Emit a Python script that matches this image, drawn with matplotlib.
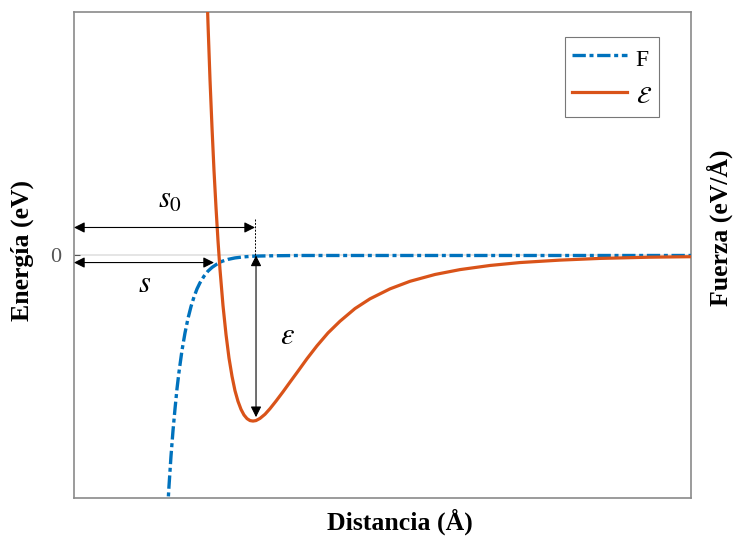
import matplotlib
matplotlib.use("Agg")
import matplotlib.pyplot as plt

plt.rcParams['mathtext.fontset'] = 'stix'

# Energy curve (orange): distance (Å) vs energy (eV, arbitrary scale)
dist_E = [2.123, 2.148, 2.172, 2.204, 2.237, 2.269, 2.302, 2.334, 2.366, 2.415,
          2.464, 2.512, 2.561, 2.609, 2.658, 2.707, 2.755, 2.804, 2.853, 2.901,
          2.950, 3.015, 3.096, 3.177, 3.274, 3.387, 3.501, 3.631, 3.776, 3.938,
          4.117, 4.311, 4.554, 4.797, 5.122, 5.446, 5.851, 6.256, 6.742, 7.229,
          7.877, 8.525, 9.336, 10.0]
energy = [1.349, 1.140, 0.951, 0.724, 0.524, 0.349, 0.195, 0.060, -0.057, -0.206,
          -0.325, -0.421, -0.496, -0.555, -0.599, -0.632, -0.655, -0.670, -0.678, -0.680,
          -0.678, -0.669, -0.652, -0.629, -0.598, -0.560, -0.520, -0.475, -0.424, -0.371,
          -0.318, -0.270, -0.218, -0.178, -0.137, -0.106, -0.078, -0.058, -0.041, -0.029,
          -0.019, -0.012, -0.007, -0.005]

# Force curve (blue)
dist_F = [1.443, 1.475, 1.507, 1.540, 1.572, 1.605, 1.637, 1.669, 1.702, 1.750,
          1.799, 1.848, 1.896, 1.945, 1.994, 2.042, 2.107, 2.172, 2.237, 2.318,
          2.399, 2.496, 2.609, 2.739, 2.885, 3.047, 3.258, 3.663, 5.284, 6.904,
          8.525, 10.0]
force = [-1.431, -1.247, -1.086, -0.946, -0.824, -0.718, -0.630, -0.548, -0.478, -0.390,
         -0.318, -0.258, -0.210, -0.170, -0.137, -0.112, -0.085, -0.064, -0.049, -0.035,
         -0.024, -0.016, -0.010, -0.006, -0.003, -0.002, -0.001, 0.0, 0.0, 0.0,
         0.0, 0.0]

zero_label = ['0']

W, H = 737, 537
fig = plt.figure(figsize=(W / 100, H / 100), dpi=100)
ax = fig.add_axes([74 / W, 1 - 498 / H, (691 - 74) / W, (498 - 12) / H])

ax.set_xlim(0, 10)
ax.set_ylim(-0.996, 1.0)

ax.axhline(0, color='#e0e0e0', lw=1.2, zorder=1)

blue = '#0072BD'
orange = '#D95319'
ax.plot(dist_F, force, color=blue, lw=2.4, linestyle=(0, (4, 1.1, 1.2, 1.1)),
        zorder=3, label='F')
ax.plot(dist_E, energy, color=orange, lw=2.3, zorder=4, label=r'$\mathcal{E}$',
        solid_joinstyle='round')

for sp in ax.spines.values():
    sp.set_color('#8a8a8a')
    sp.set_linewidth(1.2)

ax.set_xticks([])
ax.set_yticks([0])
ax.set_yticklabels(zero_label, family='Liberation Serif', fontsize=16, color='#555555')
ax.tick_params(axis='y', direction='in', length=4, color='#555555', pad=9)

aprops = dict(arrowstyle='<|-|>', color='black', lw=0.8, mutation_scale=16,
              shrinkA=0, shrinkB=0)
# s0 arrow
ax.annotate('', xy=(0, 0.115), xytext=(2.934, 0.115), arrowprops=aprops, zorder=5)
ax.plot([2.934, 2.934], [0.0, 0.15], color='black', lw=0.7,
        linestyle=(0, (2, 1.5)), zorder=5)
ax.text(1.556, 0.23, r'$s_0$', fontsize=22, ha='center', va='center')
# s arrow
ax.annotate('', xy=(0, -0.029), xytext=(2.269, -0.029), arrowprops=aprops, zorder=5)
ax.text(1.151, -0.115, r'$s$', fontsize=22, ha='center', va='center')
# epsilon arrow
ax.annotate('', xy=(2.95, 0.0), xytext=(2.95, -0.664), arrowprops=aprops, zorder=5)
ax.text(3.468, -0.328, r'$\varepsilon$', fontsize=22, ha='center', va='center')

leg = ax.legend(loc='upper right',
                bbox_to_anchor=((659 - 74) / 617, 1 - (37 - 12) / 486),
                prop={'family': 'Liberation Serif', 'size': 17}, frameon=True,
                fancybox=False, handlelength=2.33, handleheight=1.45, borderpad=0.3,
                labelspacing=0.4, handletextpad=0.38, borderaxespad=0)
leg.get_frame().set_edgecolor('#555555')
leg.get_frame().set_linewidth(0.8)

lab = dict(family='Liberation Serif', weight='bold', fontsize=18.5)
fig.text(400 / W, 1 - 522 / H, 'Distancia (Å)', ha='center', va='center', **lab)
fig.text(22 / W, 1 - 250 / H, 'Energía (eV)', ha='center', va='center', rotation=90, **lab)
fig.text(720 / W, 1 - 228 / H, 'Fuerza (eV/Å)', ha='center', va='center', rotation=90, **lab)

fig.savefig('out.png', dpi=100)
